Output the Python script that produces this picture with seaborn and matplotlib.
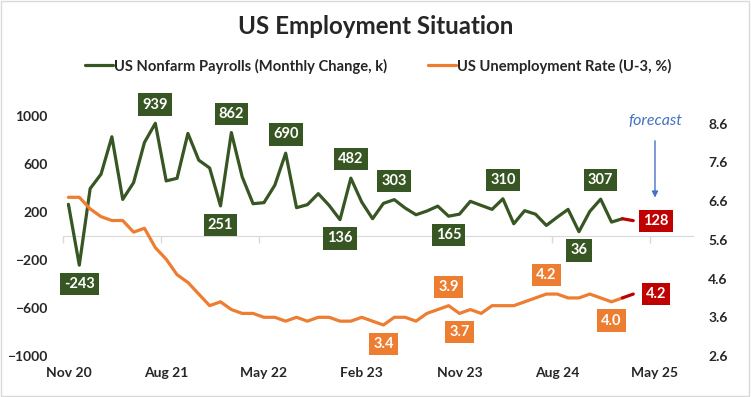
import numpy as np
import pandas as pd
import matplotlib.pyplot as plt
import seaborn as sns
from matplotlib.patches import Rectangle

# monthly categories Nov 2020 .. Aug 2025 (data ends Mar 2025, last point is forecast)
months = pd.date_range("2020-11-01", periods=58, freq="MS").strftime("%b %y").tolist()

nfp = [264, -243, 395, 515, 827, 305, 445, 780, 939, 459, 481, 855, 632, 567, 251,
       862, 492, 269, 278, 423, 690, 236, 261, 353, 255, 136, 482, 283, 144, 272,
       303, 233, 177, 208, 249, 165, 182, 289, 255, 222, 310, 102, 211, 182, 88,
       157, 222, 36, 205, 307, 116, 144, 128]

unrate = [6.7, 6.7, 6.4, 6.2, 6.1, 6.1, 5.8, 5.9, 5.4, 5.1, 4.7, 4.5, 4.2, 3.9, 4.0,
          3.8, 3.7, 3.7, 3.6, 3.6, 3.5, 3.6, 3.5, 3.6, 3.6, 3.5, 3.5, 3.6, 3.5, 3.4,
          3.6, 3.6, 3.5, 3.7, 3.8, 3.9, 3.7, 3.8, 3.7, 3.9, 3.9, 3.9, 4.0, 4.1, 4.2,
          4.2, 4.1, 4.1, 4.2, 4.1, 4.0, 4.1, 4.2]

# which points get a value label
nfp_above = [8, 15, 20, 26, 30, 40, 49]
nfp_below = [1, 14, 25, 35, 47]
ur_above = [35, 44]
ur_below = [29, 36, 50]

GREEN = "#375623"
ORANGE = "#ED7D31"
RED = "#C00000"
BLUE = "#4472C4"
GRID = "#D9D9D9"

df = pd.DataFrame({"idx": range(len(nfp)), "nfp": nfp, "unrate": unrate})
actual = df.iloc[:-1]
fcst = df.iloc[-2:]

sns.set_style("white")
plt.rcParams["font.family"] = ["Lato", "DejaVu Sans"]

fig = plt.figure(figsize=(7.51, 3.97), dpi=100)
ax = fig.add_axes([63 / 751, 1 - 356 / 397, 630 / 751, 240 / 397])
ax2 = ax.twinx()

lw = 2.3
sns.lineplot(data=actual, x="idx", y="nfp", color=GREEN, lw=lw, ax=ax)
sns.lineplot(data=fcst, x="idx", y="nfp", color=RED, lw=lw, ax=ax)
sns.lineplot(data=actual, x="idx", y="unrate", color=ORANGE, lw=lw, ax=ax2)
sns.lineplot(data=fcst, x="idx", y="unrate", color=RED, lw=lw, ax=ax2)

ax.set_xlim(-0.5, len(months) - 0.5)
ax.set_ylim(-1000, 1000)
ax.set_yticks(range(-1000, 1001, 400))
ax2.set_ylim(2.6, 8.8)
ax2.set_yticks(np.arange(2.6, 8.61, 1.0))
ax2.set_yticklabels([f"{v:.1f}" for v in np.arange(2.6, 8.61, 1.0)])
ax.set_xticks(range(0, len(months), 9))
ax.set_xticklabels(months[::9])
for a in (ax, ax2):
    a.set_xlabel("")
    a.set_ylabel("")
    for s in a.spines.values():
        s.set_visible(False)
ax.tick_params(axis="x", length=0, pad=8, labelsize=10)
ax.tick_params(axis="y", length=0, pad=11, labelsize=10)
ax2.tick_params(axis="y", length=0, pad=11, labelsize=10)
for lab in ax.get_xticklabels() + ax.get_yticklabels() + ax2.get_yticklabels():
    lab.set_fontweight("bold")

# category axis crossing at zero
sec = ax.secondary_xaxis(0.5)
sec.set_xticks([-0.5 + 9 * k for k in range(7)])
sec.tick_params(axis="x", direction="in", length=5, color=GRID, labeltop=False,
                labelbottom=False, width=1)
for s in sec.spines.values():
    s.set_color(GRID)


def tag(a, i, y, txt, dx, dy, color):
    a.annotate(txt, xy=(i, y), xytext=(dx, dy), textcoords="offset points",
               ha="center", va="center", color="white", fontweight="bold",
               fontsize=10.5,
               bbox=dict(boxstyle="square,pad=0.28", fc=color, ec="none"))


for i in nfp_above:
    tag(ax, i, nfp[i], f"{nfp[i]}", 0, 13.5, GREEN)
for i in nfp_below:
    tag(ax, i, nfp[i], f"{nfp[i]}", 0, -13.5, GREEN)
for i in ur_above:
    tag(ax2, i, unrate[i], f"{unrate[i]:.1f}", 0, 13.5, ORANGE)
for i in ur_below:
    tag(ax2, i, unrate[i], f"{unrate[i]:.1f}", 0, -13.5, ORANGE)
last = len(nfp) - 1
tag(ax, last, nfp[last], f"{nfp[last]}", 16.5, 0, RED)
tag(ax2, last, unrate[last], f"{unrate[last]:.1f}", 16.5, 0, RED)

ax.annotate("forecast", xy=(54, 320), xytext=(54, 960), ha="center", va="center",
            color=BLUE, style="italic", fontsize=11.5,
            arrowprops=dict(arrowstyle="-|>", color=BLUE, lw=1, shrinkA=7,
                            shrinkB=0, mutation_scale=9))

fig.text(376 / 751, 1 - 27 / 397, "US Employment Situation", ha="center", va="center",
         fontsize=17.4, fontweight="bold")
leg = fig.legend([ax.lines[0], ax2.lines[0]],
                 ["US Nonfarm Payrolls (Monthly Change, k)",
                  "US Unemployment Rate (U-3, %)"],
                 loc="center", bbox_to_anchor=(378.5 / 751, 1 - 66 / 397), ncol=2,
                 frameon=False, handlelength=1.9, handletextpad=0.05,
                 columnspacing=2.8, prop={"size": 10.6, "weight": "bold"})

fig.add_artist(Rectangle((0.001, 0.002), 0.997, 0.995, transform=fig.transFigure,
                         fill=False, ec=GRID, lw=1))

fig.savefig("out.png", dpi=100)
